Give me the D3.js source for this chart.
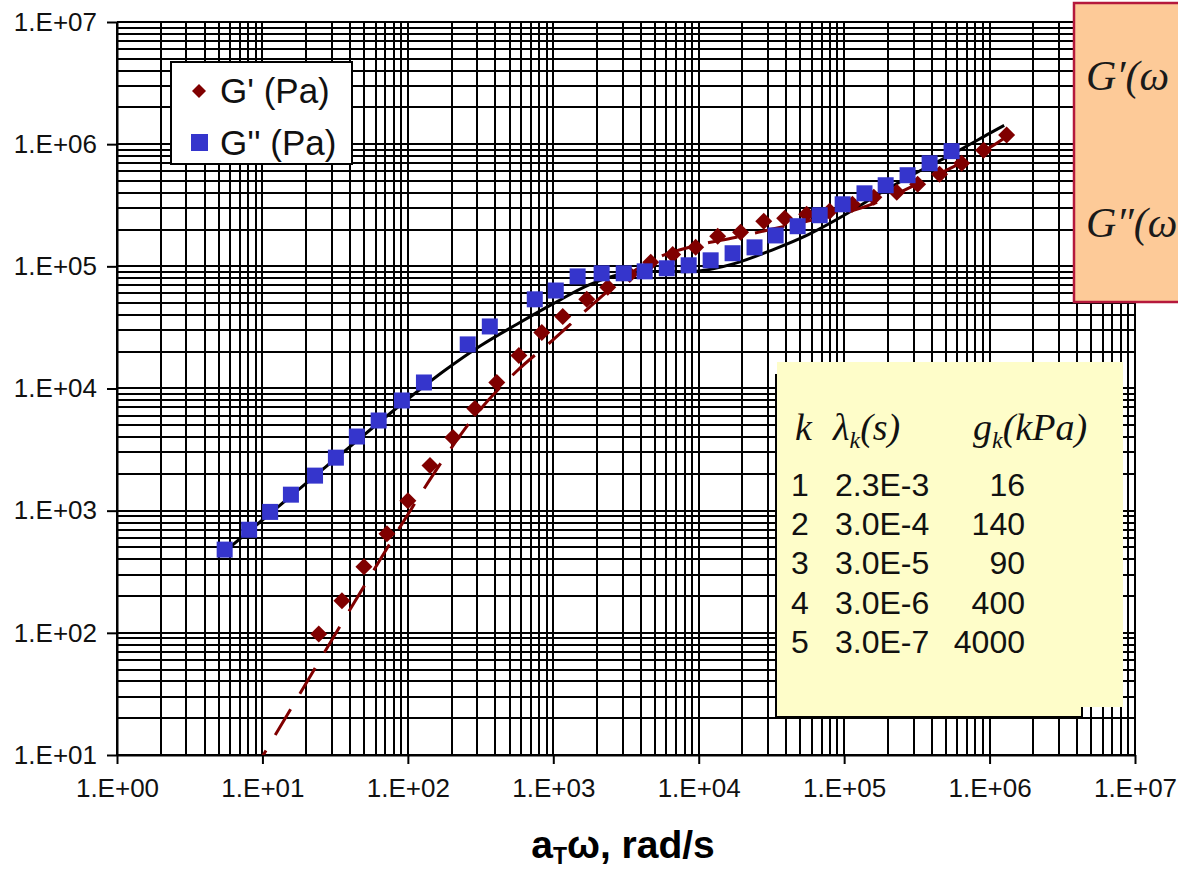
<!DOCTYPE html>
<html>
<head>
<meta charset="utf-8">
<script src="https://cdn.jsdelivr.net/npm/d3@7"></script>
<style>
  body { margin: 0; background: #fff; }
  svg { display: block; }
</style>
</head>
<body>
<svg id="chart" width="1178" height="872"></svg>
<script>
// measured G' (storage modulus), red diamonds
var gpOmega = [24.4, 35.2, 49.9, 71.8, 100, 142, 204, 289, 409, 580, 834, 1162, 1698, 2370, 3356, 4680,
               6620, 9530, 13500, 19400, 28000, 39000, 55200, 79400, 114000, 160000, 230000, 320000,
               453000, 643000, 910000, 1310000];
var gpValue = [98, 183, 348, 648, 1207, 2338, 3965, 6850, 11200, 18600, 28800, 38900, 53700, 67300, 85900,
               108000, 125000, 143000, 176000, 190000, 234000, 247000, 267000, 282000, 322000, 368000,
               404000, 470000, 568000, 698000, 893000, 1186000];

// measured G'' (loss modulus), blue squares
var gppOmega = [5.5, 8.1, 11.3, 15.7, 23, 32, 44.6, 63, 91, 129, 258, 366, 746, 1040, 1470, 2150, 3050,
                4250, 6030, 8530, 12080, 17100, 24200, 33800, 47900, 67900, 97700, 138000, 193000,
                273000, 387000, 548000];
var gppValue = [480, 698, 977, 1352, 1936, 2716, 4045, 5470, 7980, 11200, 22960, 32200, 53700, 63400, 82700,
                87700, 87700, 91000, 96400, 102000, 112000, 128000, 143000, 179000, 213000, 262000, 322000,
                396000, 461000, 557000, 698000, 877000];

// fitted curves
var fitOmega = [5.62, 10, 17.8, 31.6, 56.2, 100, 178, 316, 562, 1000, 1778, 3162, 5623, 10000, 17783,
                31623, 56234, 100000, 177828, 316228, 562341, 1000000, 1260000];
var fitGp = [3.08, 9.73, 30.7, 96.9, 303, 931, 2692, 6793, 13914, 25101, 46373, 82861, 122119, 149797,
             172426, 201022, 234316, 273470, 342867, 470148, 652365, 936175, 1119138];
var fitGpp = [472, 839, 1491, 2647, 4682, 8201, 13959, 22387, 33576, 49480, 70883, 88115, 90897, 91454,
              105740, 135310, 180945, 261715, 397878, 586702, 837740, 1224387, 1423874];

// Maxwell mode table
var modeK = ["1", "2", "3", "4", "5"];
var lambdaK = ["2.3E-3", "3.0E-4", "3.0E-5", "3.0E-6", "3.0E-7"];
var gK = ["16", "140", "90", "400", "4000"];

var xTicks = [1, 10, 100, 1e3, 1e4, 1e5, 1e6, 1e7];
var yTicks = [10, 100, 1e3, 1e4, 1e5, 1e6, 1e7];

var svg = d3.select("#chart");
var plotL = 117, plotR = 1135, plotT = 22, plotB = 755;

var x = d3.scaleLog().domain([1, 1e7]).range([plotL, plotR]);
var y = d3.scaleLog().domain([10, 1e7]).range([plotB, plotT]);

var red = "#800000", blue = "#3535cc";
var sans = "'Liberation Sans', Arial, sans-serif";
var serif = "'Liberation Serif', 'Times New Roman', serif";

function fmtExp(d) {
  var e = Math.round(Math.log10(d));
  return "1.E+" + (e < 10 ? "0" : "") + e;
}

// grid (every 1..9 per decade)
var grid = svg.append("g").attr("class", "grid")
    .attr("stroke", "#000").attr("stroke-width", 2);
grid.selectAll("line.v").data(x.ticks()).enter().append("line")
    .attr("x1", function(d) { return Math.round(x(d)); })
    .attr("x2", function(d) { return Math.round(x(d)); })
    .attr("y1", plotT).attr("y2", plotB);
grid.selectAll("line.h").data(y.ticks()).enter().append("line")
    .attr("y1", function(d) { return Math.round(y(d)); })
    .attr("y2", function(d) { return Math.round(y(d)); })
    .attr("x1", plotL).attr("x2", plotR);

// axes
var xAxis = svg.append("g")
    .attr("transform", "translate(0," + plotB + ")")
    .call(d3.axisBottom(x).tickValues(xTicks).tickFormat(fmtExp).tickSize(9).tickSizeOuter(0));
var yAxis = svg.append("g")
    .attr("transform", "translate(" + plotL + ",0)")
    .call(d3.axisLeft(y).tickValues(yTicks).tickFormat(fmtExp).tickSize(10).tickSizeOuter(0));

[xAxis, yAxis].forEach(function(a) {
  a.select(".domain").attr("stroke", "#000").attr("stroke-width", 2);
  a.selectAll(".tick line").attr("stroke", "#000").attr("stroke-width", 2);
  a.selectAll(".tick text")
    .attr("font-family", sans)
    .attr("font-size", 26)
    .attr("fill", "#111");
});
xAxis.selectAll(".tick text").attr("y", 24);
yAxis.selectAll(".tick text").attr("x", -20);

// axis title
var title = svg.append("text")
    .attr("x", 623).attr("y", 858)
    .attr("text-anchor", "middle")
    .attr("font-family", sans)
    .attr("font-weight", "bold")
    .attr("font-size", 39)
    .attr("fill", "#000");
title.append("tspan").text("a");
title.append("tspan").attr("font-size", 23).attr("dy", 6).text("T");
title.append("tspan").attr("dy", -6).text("ω, rad/s");

// clip for curves
svg.append("clipPath").attr("id", "plotClip")
  .append("rect").attr("x", plotL).attr("y", plotT)
  .attr("width", plotR - plotL).attr("height", plotB - plotT);

var fitLine = d3.line()
    .x(function(d, i) { return x(fitOmega[i]); })
    .y(function(d) { return y(d); })
    .curve(d3.curveCatmullRom);

svg.append("path")
    .datum(fitGpp)
    .attr("clip-path", "url(#plotClip)")
    .attr("d", fitLine)
    .attr("fill", "none")
    .attr("stroke", "#000")
    .attr("stroke-width", 3);

svg.append("path")
    .datum(fitGp)
    .attr("clip-path", "url(#plotClip)")
    .attr("d", fitLine)
    .attr("fill", "none")
    .attr("stroke", red)
    .attr("stroke-width", 3)
    .attr("stroke-dasharray", "30,18");

function diamond(s) {
  return "M0," + (-s) + "L" + s + ",0L0," + s + "L" + (-s) + ",0Z";
}

// G' points
svg.append("g").selectAll("path").data(gpValue).enter().append("path")
    .attr("transform", function(d, i) { return "translate(" + x(gpOmega[i]) + "," + y(d) + ")"; })
    .attr("d", diamond(8.5))
    .attr("fill", red);

// G'' points
svg.append("g").selectAll("rect").data(gppValue).enter().append("rect")
    .attr("x", function(d, i) { return x(gppOmega[i]) - 8; })
    .attr("y", function(d) { return y(d) - 8; })
    .attr("width", 16).attr("height", 16)
    .attr("fill", blue);

// legend
var legend = svg.append("g");
legend.append("rect")
    .attr("x", 171).attr("y", 62).attr("width", 181).attr("height", 102)
    .attr("fill", "#fff").attr("stroke", "#000").attr("stroke-width", 2);
legend.append("path").attr("transform", "translate(199,91)").attr("d", diamond(7)).attr("fill", red);
legend.append("rect").attr("x", 191).attr("y", 134).attr("width", 17).attr("height", 17).attr("fill", blue);
legend.selectAll("text").data(["G' (Pa)", "G'' (Pa)"]).enter().append("text")
    .attr("x", 220)
    .attr("y", function(d, i) { return 103 + i * 52; })
    .attr("font-family", sans)
    .attr("font-size", 35)
    .attr("fill", "#111")
    .text(function(d) { return d; });

// mode table box
var tbl = svg.append("g");
tbl.append("rect").attr("x", 777).attr("y", 362).attr("width", 346).attr("height", 345).attr("fill", "#fefdc9");
tbl.append("rect").attr("x", 777).attr("y", 362).attr("width", 305).attr("height", 355).attr("fill", "#fefdc9");
tbl.append("path")
    .attr("d", "M776,374V717H1082V707")
    .attr("fill", "none").attr("stroke", "#000").attr("stroke-width", 2);

var head = tbl.append("text").attr("y", 440)
    .attr("font-family", serif).attr("font-style", "italic").attr("font-size", 38).attr("fill", "#111");
head.append("tspan").attr("x", 795).text("k");
head.append("tspan").attr("x", 833).text("λ");
head.append("tspan").attr("font-size", 24).attr("dy", 8).text("k");
head.append("tspan").attr("dy", -8).text("(s)");
head.append("tspan").attr("x", 973).text("g");
head.append("tspan").attr("font-size", 24).attr("dy", 8).text("k");
head.append("tspan").attr("dy", -8).text("(kPa)");

var rows = tbl.append("g")
    .attr("font-family", sans)
    .attr("font-size", 32).attr("fill", "#111");
rows.selectAll("text.k").data(modeK).enter().append("text")
    .attr("x", 791).attr("y", function(d, i) { return 496 + i * 39.2; }).text(function(d) { return d; });
rows.selectAll("text.l").data(lambdaK).enter().append("text")
    .attr("x", 835).attr("y", function(d, i) { return 496 + i * 39.2; }).text(function(d) { return d; });
rows.selectAll("text.g").data(gK).enter().append("text")
    .attr("x", 1025).attr("text-anchor", "end")
    .attr("y", function(d, i) { return 496 + i * 39.2; }).text(function(d) { return d; });

// model equation box (cut off at the right edge)
var eq = svg.append("g");
eq.append("rect").attr("x", 1074).attr("y", 3).attr("width", 130).attr("height", 299)
    .attr("fill", "#fdca98").attr("stroke", "#b5183c").attr("stroke-width", 2.5);
eq.selectAll("text").data(["G′(ω", "G″(ω"]).enter().append("text")
    .attr("x", 1086)
    .attr("y", function(d, i) { return 90 + i * 147; })
    .attr("font-family", serif).attr("font-style", "italic").attr("font-size", 42).attr("fill", "#1a1a1a")
    .text(function(d) { return d; });
</script>
</body>
</html>
